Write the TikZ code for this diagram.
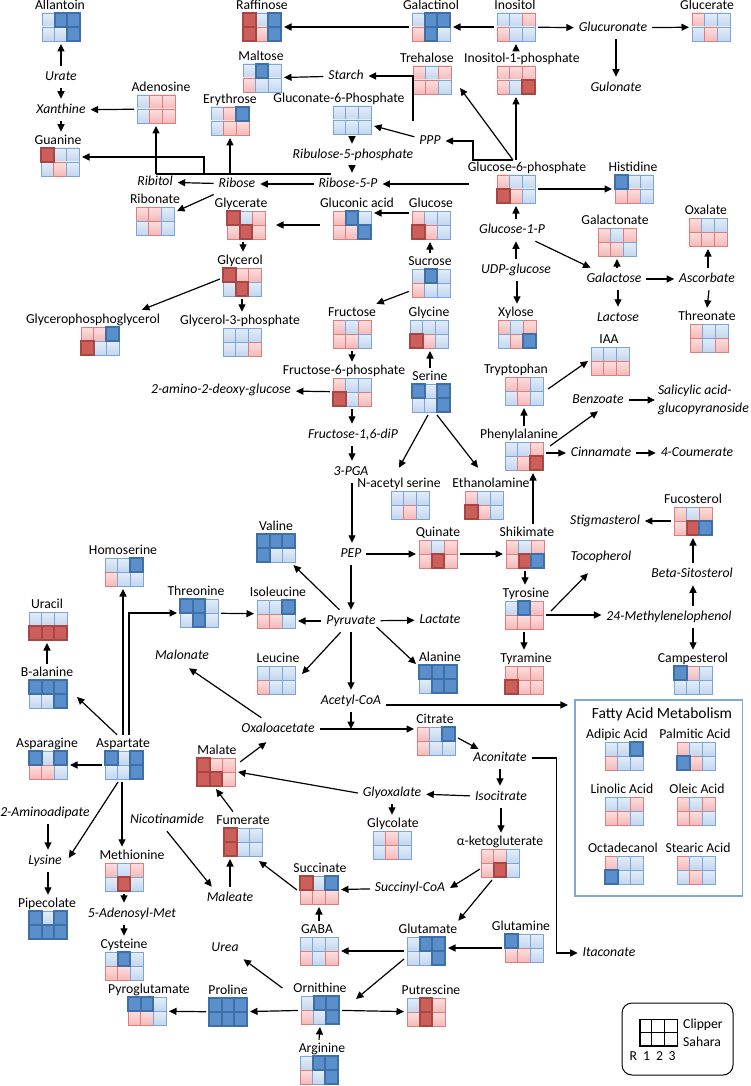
\documentclass[tikz,border=0pt]{standalone}
\usepackage{fontspec}
\setmainfont{Carlito}
\usetikzlibrary{arrows.meta,calc}
\definecolor{lbA}{HTML}{E4EDF9}
\definecolor{lbB}{HTML}{C3D6EE}
\definecolor{lbD}{HTML}{7AA5DB}
\definecolor{lrA}{HTML}{FDDFDF}
\definecolor{lrB}{HTML}{F4B9B9}
\definecolor{lrD}{HTML}{E07C7C}
\definecolor{dbF}{HTML}{5A8FCB}
\definecolor{dbD}{HTML}{3E6FA7}
\definecolor{drF}{HTML}{CD5F5B}
\definecolor{drD}{HTML}{A84643}
\definecolor{boxD}{HTML}{7FA8DA}
\newcommand\lfnt{\fontsize{13.7}{18}\selectfont}
\tikzset{
  cell-b/.style={draw=lbD, top color=lbA, bottom color=lbB, line width=0.8pt},
  cell-r/.style={draw=lrD, top color=lrA, bottom color=lrB, line width=0.8pt},
  cell-B/.style={draw=dbD, fill=dbF, line width=0.8pt},
  cell-R/.style={draw=drD, fill=drF, line width=0.8pt},
  top-b/.style={}, top-r/.style={},
  top-B/.style={draw=dbD, line width=1.8pt},
  top-R/.style={draw=drD, line width=1.8pt},
  gridnode/.style={minimum width=38pt, minimum height=28pt, inner sep=0pt, outer sep=3pt},
  lab/.style={font=\lfnt, inner sep=1pt, outer sep=2pt, text height=9.5pt, text depth=3pt},
  it/.style={lab, font=\lfnt\itshape, outer sep=4pt},
  itml/.style={font=\lfnt\itshape, inner sep=1pt, outer sep=2pt, align=left, anchor=west},
  arr/.style={line width=1.2pt, -{Triangle[length=7.5pt,width=7pt]}},
  conn/.style={line width=1.2pt},
  lgline/.style={line width=1.3pt},
}
\newcommand\metab[6]{%
  \node[gridnode] (#1) at (#2,#3) {};
  \node[lab] (#1-l) at (#5,#3-21) {#4};
  \foreach \cd [count=\ci from 0] in {#6}{%
    \pgfmathsetmacro\cxx{#2-19+mod(\ci,3)*12.667}%
    \pgfmathsetmacro\cyy{#3-14+int(\ci/3)*14}%
    \path[cell-\cd] (\cxx,\cyy) rectangle ++(12.667,14);
  }%
  \foreach \cd [count=\ci from 0] in {#6}{%
    \pgfmathsetmacro\cxx{#2-19+mod(\ci,3)*12.667}%
    \pgfmathsetmacro\cyy{#3-14+int(\ci/3)*14}%
    \path[top-\cd] (\cxx,\cyy) rectangle ++(12.667,14);
  }%
}
\begin{document}
\begin{tikzpicture}[x=1pt,y=-1pt]
\fill[white] (0,0) rectangle (750,1086);
\useasboundingbox (0,0) rectangle (750,1086);

% fatty acid box
\node[draw=boxD, line width=1.2pt, minimum width=167.7pt, minimum height=196pt, inner sep=0pt, outer sep=7pt] (fabox) at (658.8,798) {};
\node[font=\fontsize{15.5}{18}\selectfont, inner sep=1pt] (fatitle) at (662,714) {Fatty Acid Metabolism};

% metabolites
\metab{allantoin}{61}{27}{Allantoin}{60}{b,B,B,b,b,B}
\metab{raffinose}{262}{27}{Raffinose}{262}{R,b,B,R,r,B}
\metab{galactinol}{431}{27}{Galactinol}{431}{b,B,B,r,B,b}
\metab{inositol}{516}{27}{Inositol}{515}{b,b,r,r,b,b}
\metab{glucerate}{711}{27}{Glucerate}{707}{r,b,b,b,r,b}
\metab{maltose}{262}{78}{Maltose}{261}{b,B,b,r,b,b}
\metab{trehalose}{432}{80}{Trehalose}{427}{r,b,r,r,r,b}
\metab{ino1p}{516}{80}{Inositol-1-phosphate}{522}{r,r,r,r,b,R}
\metab{adenosine}{156}{109}{Adenosine}{161}{b,r,r,b,r,r}
\metab{erythrose}{230}{121}{Erythrose}{230}{b,r,B,b,r,r}
\metab{g6pp}{352}{120}{Gluconate-6-Phosphate}{339}{b,b,b,b,b,b}
\metab{guanine}{60}{162}{Guanine}{58}{R,b,b,b,r,b}
\metab{g6p}{516}{189}{Glucose-6-phosphate}{527}{r,b,b,R,r,b}
\metab{histidine}{634}{189}{Histidine}{633}{B,b,b,r,r,b}
\metab{ribonate}{155}{221}{Ribonate}{155}{r,r,b,b,r,b}
\metab{glycerate}{246}{225}{Glycerate}{241}{R,b,r,r,R,r}
\metab{gluconic}{352}{225}{Gluconic acid}{357}{r,B,b,r,r,B}
\metab{glucose}{431}{225}{Glucose}{431}{r,b,b,R,r,b}
\metab{galactonate}{617}{242}{Galactonate}{615}{r,b,r,r,r,b}
\metab{oxalate}{708}{232}{Oxalate}{706}{r,b,b,r,r,r}
\metab{sucrose}{431}{283}{Sucrose}{430}{b,B,b,r,b,b}
\metab{glycerol}{242}{282}{Glycerol}{240}{R,r,r,b,R,b}
\metab{fructose}{352}{334}{Fructose}{352}{r,b,r,r,r,b}
\metab{glycine}{429}{334}{Glycine}{429}{b,b,b,R,r,b}
\metab{xylose}{517}{334}{Xylose}{516}{r,b,r,b,r,B}
\metab{threonate}{709}{338}{Threonate}{707}{r,b,b,r,b,r}
\metab{gpg}{100}{341}{Glycerophosphoglycerol}{93}{r,r,B,R,b,b}
\metab{g3p}{242}{342}{Glycerol-3-phosphate}{240}{b,b,b,b,b,r}
\metab{iaa}{610}{361}{IAA}{609}{b,b,b,r,r,r}
\metab{f6p}{352}{392}{Fructose-6-phosphate}{344}{r,b,b,R,b,r}
\metab{serine}{431}{398}{Serine}{430}{B,b,B,b,b,B}
\metab{tryptophan}{524}{391}{Tryptophan}{516}{r,r,b,b,r,b}
\metab{phenylalanine}{524}{456}{Phenylalanine}{519}{b,b,r,b,r,R}
\metab{nacser}{410}{505}{N-acetyl serine}{399}{b,b,b,b,r,b}
\metab{ethanolamine}{484}{505}{Ethanolamine}{491}{r,b,b,R,r,b}
\metab{fucosterol}{693}{521}{Fucosterol}{693}{r,b,r,r,R,B}
\metab{valine}{276}{548}{Valine}{276}{B,B,B,B,b,b}
\metab{quinate}{438}{554}{Quinate}{438}{r,b,r,r,R,r}
\metab{shikimate}{525}{554}{Shikimate}{527}{r,b,r,r,R,B}
\metab{homoserine}{124}{572}{Homoserine}{123}{b,b,B,r,b,b}
\metab{threonine}{199}{613}{Threonine}{196}{B,B,b,b,B,b}
\metab{isoleucine}{276}{614}{Isoleucine}{278}{b,b,B,r,r,b}
\metab{tyrosine}{524}{615}{Tyrosine}{526}{b,B,r,r,r,r}
\metab{uracil}{48}{626}{Uracil}{47}{b,b,b,R,R,R}
\metab{leucine}{276}{680}{Leucine}{278}{b,b,b,r,b,b}
\metab{alanine}{438}{679}{Alanine}{440}{B,B,B,b,B,B}
\metab{tyramine}{524}{680}{Tyramine}{526}{r,r,r,R,r,r}
\metab{campesterol}{693}{680}{Campesterol}{693}{B,r,b,b,b,b}
\metab{balanine}{48}{694}{B-alanine}{47}{B,B,B,b,b,B}
\metab{citrate}{436}{741}{Citrate}{435}{r,b,B,r,b,b}
\metab{asparagine}{48}{765}{Asparagine}{47}{B,b,B,r,r,b}
\metab{aspartate}{124}{765}{Aspartate}{123}{B,b,B,b,b,B}
\metab{malate}{216}{772}{Malate}{217}{R,r,r,R,R,r}
\metab{fumerate}{243}{842}{Fumerate}{243}{R,b,b,R,b,b}
\metab{glycolate}{392}{845}{Glycolate}{393}{b,r,b,b,r,b}
\metab{akg}{500}{863}{α-ketogluterate}{500}{r,r,b,r,R,b}
\metab{methionine}{124}{877}{Methionine}{132}{r,b,r,b,R,b}
\metab{succinate}{319}{890}{Succinate}{320}{R,b,B,r,r,r}
\metab{pipecolate}{48}{925}{Pipecolate}{47}{B,b,B,B,B,B}
\metab{glutamate}{426}{951}{Glutamate}{428}{b,B,B,b,b,B}
\metab{gaba}{319}{951}{GABA}{317}{b,b,b,r,b,r}
\metab{glutamine}{524}{948}{Glutamine}{521}{B,b,b,r,r,b}
\metab{cysteine}{124}{966}{Cysteine}{124}{b,B,b,r,r,b}
\metab{pyroglutamate}{147}{1011}{Pyroglutamate}{149}{B,B,b,r,r,b}
\metab{proline}{228}{1012}{Proline}{228}{B,B,B,B,B,B}
\metab{ornithine}{320}{1010}{Ornithine}{320}{b,B,B,r,b,B}
\metab{putrescine}{426}{1012}{Putrescine}{431}{b,R,r,r,R,r}
\metab{arginine}{319}{1070}{Arginine}{322}{b,B,B,r,b,B}
\metab{adipic}{624}{756}{Adipic Acid}{617}{b,b,B,r,b,b}
\metab{palmitic}{696}{756}{Palmitic Acid}{695}{r,b,b,B,r,b}
\metab{linolic}{624}{811}{Linolic Acid}{622}{b,b,r,r,r,b}
\metab{oleic}{696}{811}{Oleic Acid}{697}{r,b,r,r,r,b}
\metab{octadecanol}{624}{870}{Octadecanol}{623}{r,b,b,B,b,b}
\metab{stearic}{696}{870}{Stearic Acid}{698}{r,b,b,b,r,b}

% italic intermediates
\node[it] (urate) at (61,77) {Urate};
\node[it] (xanthine) at (61,110) {Xanthine};
\node[it] (ribitol) at (155,182) {Ribitol};
\node[it] (ribose) at (237,184) {Ribose};
\node[it] (r5p) at (348,184) {Ribose-5-P};
\node[it] (ru5p) at (353,155) {Ribulose-5-phosphate};
\node[it] (starch) at (346,76) {Starch};
\node[it] (ppp) at (430,141) {PPP};
\node[it] (glucuronate) at (613,28) {Glucuronate};
\node[it] (gulonate) at (616,88) {Gulonate};
\node[it] (g1p) at (512,230) {Glucose-1-P};
\node[it] (udpg) at (516,270) {UDP-glucose};
\node[it] (galactose) at (614,279) {Galactose};
\node[it] (ascorbate) at (707,279) {Ascorbate};
\node[it] (lactose) at (618,318) {Lactose};
\node[it] (amino) at (221,390) {2-amino-2-deoxy-glucose};
\node[it] (f16) at (353,435) {Fructose-1,6-diP};
\node[it] (pga) at (351,472) {3-PGA};
\node[it] (benzoate) at (598,400) {Benzoate};
\node[itml] (salicylic) at (655,400) {Salicylic acid-\\glucopyranoside};
\node[it] (cinnamate) at (601,453) {Cinnamate};
\node[it] (coumerate) at (697,453) {4-Coumerate};
\node[it] (stigmasterol) at (605,521) {Stigmasterol};
\node[it] (pep) at (351,554) {PEP};
\node[it] (tocopherol) at (601,557) {Tocopherol};
\node[it] (betasit) at (692,574) {Beta-Sitosterol};
\node[it] (methyleno) at (669,617) {24-Methylenelophenol};
\node[it] (pyruvate) at (351,621) {Pyruvate};
\node[it] (lactate) at (440,620) {Lactate};
\node[it] (malonate) at (182,656) {Malonate};
\node[it] (acetylcoa) at (351,701) {Acetyl-CoA};
\node[it] (oxaloacetate) at (278,729) {Oxaloacetate};
\node[it] (aconitate) at (500,758) {Aconitate};
\node[it] (glyoxalate) at (392,793) {Glyoxalate};
\node[it] (isocitrate) at (501,797) {Isocitrate};
\node[it] (aminoadipate) at (45,813) {2-Aminoadipate};
\node[it] (nicotinamide) at (167,820) {Nicotinamide};
\node[it] (lysine) at (45,861) {Lysine};
\node[it] (succinylcoa) at (410,888) {Succinyl-CoA};
\node[it] (maleate) at (230,898) {Maleate};
\node[it] (adenosylmet) at (132,914) {5-Adenosyl-Met};
\node[it] (urea) at (225,948) {Urea};
\node[it] (itaconate) at (609,953) {Itaconate};

% connectors
\draw[arr] (urate) -- (allantoin);
\draw[arr] (urate) -- (xanthine);
\draw[arr] (xanthine.south) -- (xanthine.south |- guanine-l.north);
\draw[arr] (adenosine) -- (xanthine);
\draw[arr] (galactinol) -- (raffinose);
\draw[arr] (inositol) -- (galactinol);
\draw[arr] (inositol) -- (glucuronate);
\draw[arr] (glucuronate) -- (glucerate);
\draw[arr] (glucuronate.south -| gulonate) -- (gulonate.north);
\draw[arr] (ino1p-l.north -| inositol) -- (inositol.south);
\draw[arr] (starch) -- (maltose);
\coordinate (pppc) at (413,121);
\draw[arr] (pppc) |- (starch);
\draw[arr] (ppp) -- (g6pp);
\coordinate (g6pt) at (513,160);
\draw[arr] (g6pt) -- ++(-40,0) |- (ppp);
\draw[arr] (g6pt) -- ($(trehalose.east)+(6,8)$);
\draw[arr] (g6pt -| ino1p) -- (ino1p.south);
\draw[arr] (g6pp.south) -- (g6pp.south |- ru5p.north);
\draw[arr] (ru5p.south -| g6pp) -- (r5p.north -| g6pp);
\draw[arr] ($(g6p.west)+(-25,-5)$) -- (r5p);
\draw[arr] (r5p) -- (ribose);
\draw[arr] (ribose) -- (ribitol);
\draw[arr] (ribose) -- (ribonate);
\coordinate (treeR) at (331,174);
\draw[conn] (treeR) -- (treeR -| adenosine);
\draw[arr] (treeR -| adenosine) -- (adenosine.south);
\draw[arr] (treeR -| erythrose) -- (erythrose.south);
\coordinate (gbr) at (204,174);
\draw[arr] (gbr) |- ($(guanine.east)+(0,-5)$);
\draw[arr] (g6p) -- (histidine);
\draw[arr] (g1p.north -| g6p) -- (g6p.south);
\draw[arr] (udpg.north -| g6p) -- (g1p.south -| g6p);
\draw[arr] (g1p) -- (galactose);
\draw[arr] (galactose.north -| galactonate) -- (galactonate.south);
\draw[arr] (galactose) -- (ascorbate);
\draw[arr] (ascorbate.north -| oxalate) -- (oxalate.south);
\draw[arr] (galactose.south -| lactose) -- (lactose.north);
\draw[arr] (ascorbate.south -| threonate) -- (threonate-l.north);
\draw[arr] (udpg.south -| xylose) -- (xylose-l.north -| xylose);
\draw[arr] ($(glucose.west)+(0,-12)$) -- ($(gluconic.east)+(0,-12)$);
\draw[arr, shorten <=10pt, shorten >=8pt] (gluconic) -- (glycerate);
\draw[arr] (sucrose-l.north) -- (sucrose-l.north |- glucose.south);
\draw[arr] ($(glycerate.south)+(-3,0)$) -- ($(glycerol-l.north)+(3,0)$);
\draw[arr] (glycerol.south) -- (glycerol.south |- g3p-l.north);
\draw[arr] ($(glycerol.west)+(0,-3)$) -- ($(gpg-l.north)+(49,-1)$);
\draw[arr] (sucrose) -- (fructose-l);
\draw[arr] (fructose.south) -- (fructose.south |- f6p-l.north);
\draw[arr] (f6p) -- (amino);
\draw[arr] (f6p.south) -- (f6p.south |- f16.north);
\draw[arr] (f16.south -| f6p) -- (pga.north -| f6p);
\draw[arr] (pga.south -| f6p) -- (pep.north -| f6p);
\draw[arr] (serine-l.north) -- (serine-l.north |- glycine.south);
\draw[arr] ($(serine.south)+(-3,0)$) -- ($(nacser-l.north)+(0,-7)$);
\draw[arr] ($(serine.south)+(6,0)$) -- ($(ethanolamine-l.north)+(-13,-7)$);
\draw[arr] ($(tryptophan.east)+(2,-2)$) -- (iaa.west);
\draw[arr] (phenylalanine-l.north -| phenylalanine) -- (tryptophan.south);
\draw[arr] ($(phenylalanine.east)+(4,-10)$) -- (benzoate.south);
\draw[arr] (benzoate) -- (salicylic);
\draw[arr] (phenylalanine.east |- cinnamate) -- (cinnamate);
\draw[arr] (cinnamate) -- (coumerate);
\draw[arr] ($(shikimate-l.north)+(6,0)$) -- ($(phenylalanine.south)+(9,0)$);
\draw[arr] (fucosterol) -- (stigmasterol);
\draw[arr] (pep) -- (quinate);
\draw[arr] (quinate) -- (shikimate);
\draw[arr] (shikimate.south) -- (shikimate.south |- tyrosine-l.north);
\draw[arr] ($(tyrosine.east)+(5,-4)$) -- ($(tocopherol.south)+(-13,5)$);
\draw[arr] (tyrosine.east) -- (tyrosine.east -| methyleno.west);
\draw[arr] (methyleno.north -| fucosterol) -- (betasit.south -| fucosterol);
\draw[arr] (betasit.north -| fucosterol) -- (fucosterol.south);
\draw[arr] (methyleno.south -| campesterol) -- (campesterol-l.north);
\draw[arr] (tyrosine.south) -- (tyrosine.south |- tyramine-l.north);
\draw[arr] (pep) -- (pyruvate);
\draw[arr] (pyruvate) -- (valine);
\draw[arr] (pyruvate.west) -- (pyruvate.west -| isoleucine.east);
\draw[arr] (pyruvate) -- (lactate);
\draw[arr] (pyruvate) -- ($(leucine.east)+(4,-6)$);
\draw[arr] ($(pyruvate.east)+(-4,6)$) -- ($(alanine-l.west)+(0,6)$);
\draw[arr] (pyruvate) -- (acetylcoa);
\draw[arr] (threonine) -- (isoleucine);
\coordinate (acE) at ($(acetylcoa.east)+(0,4)$);
\draw[arr] (acE) -- (acE -| fabox.west);
\draw[arr] (acetylcoa.south) -- (acetylcoa.south |- oxaloacetate);
\draw[arr] (oxaloacetate.east) -- (oxaloacetate.east -| citrate.west);
\draw[arr] ($(oxaloacetate.north west)+(25,0)$) -- ($(malonate.south)+(7,1)$);
\draw[arr] ($(citrate.east)+(0,-3)$) -- ($(aconitate.west)+(10,-9)$);
\draw[arr] (aconitate.east) -- ++(25,0) |- (itaconate);
\draw[arr] (aconitate.south) -- (aconitate.south |- isocitrate.north);
\draw[arr] (isocitrate) -- (glyoxalate);
\draw[arr] (isocitrate.south) -- (isocitrate.south |- akg-l.north);
\draw[arr] (glyoxalate.south) -- (glyoxalate.south |- glycolate-l.north);
\draw[arr] (glyoxalate.west) -- (malate.east);
\draw[arr] ($(malate.east)+(2,-10)$) -- ($(oxaloacetate.south west)+(30,2)$);
\draw[arr] ($(fumerate-l.north)+(-10,0)$) -- (malate.south);
\draw[arr] (maleate.north) -- (maleate.north |- fumerate.south);
\draw[arr] (nicotinamide.south) -- ($(maleate.north west)+(10,0)$);
\draw[arr] (succinate.west) -- ($(fumerate.south east)+(-6,2)$);
\draw[arr] (succinylcoa) -- (succinate);
\draw[arr] ($(akg.west)+(2,6)$) -- (succinylcoa.east);
\draw[arr] ($(akg.south)+(-8,0)$) -- ($(glutamate-l.north east)+(-2,0)$);
\draw[arr] (glutamine.west) -- (glutamine.west -| glutamate.east);
\draw[arr] (glutamate) -- (gaba);
\draw[arr] (gaba-l.north -| gaba) -- (succinate.south);
\draw[arr] ($(glutamate.west)+(0,8)$) -- ($(ornithine.east)+(14,-11)$);
\draw[arr] (ornithine) -- (proline);
\draw[arr] (ornithine) -- (putrescine);
\draw[arr] ($(ornithine-l.west)+(-8,-1)$) -- (urea.south east);
\draw[arr] (arginine-l.north -| arginine) -- (ornithine.south);
\draw[arr] (proline) -- (pyroglutamate);
\draw[arr] ($(aspartate-l.north)+(-6,0)$) -- ($(balanine.east)+(7,3)$);
\draw[arr] (balanine-l.north) -- (balanine-l.north |- uracil.south);
\draw[arr] (aspartate) -- (asparagine);
\draw[arr] (aspartate-l.north) -- (aspartate-l.north |- homoserine.south);
\draw[arr] ($(aspartate-l.north)+(6,0)$) |- (threonine);
\draw[arr] ($(aspartate.south)+(-6,0)$) -- ($(lysine.east)+(2,-3)$);
\draw[arr] ($(aspartate.south)+(-2,0)$) -- ($(methionine-l.north)+(-10,0)$);
\draw[arr] (aminoadipate.south -| pipecolate) -- (lysine.north -| pipecolate);
\draw[arr] (lysine.south -| pipecolate) -- (pipecolate-l.north -| pipecolate);
\draw[arr] (methionine.south) -- (methionine.south |- adenosylmet.north);
\draw[arr] (adenosylmet.south -| methionine) -- (cysteine-l.north -| methionine);

% legend
\node[draw, line width=1pt, rounded corners=10pt, minimum width=111pt, minimum height=72pt, inner sep=0pt] (legend) at (677.5,1039) {};
\node[draw, lgline, minimum width=37.3pt, minimum height=26.7pt, inner sep=0pt] (lgrid) at (658.7,1032.7) {};
\draw[lgline] ($(lgrid.north west)+(12.43,0)$) -- ($(lgrid.south west)+(12.43,0)$);
\draw[lgline] ($(lgrid.north west)+(24.86,0)$) -- ($(lgrid.south west)+(24.86,0)$);
\draw[lgline] (lgrid.west) -- (lgrid.east);
\node[font=\lfnt, anchor=west, inner sep=0pt] (lclip) at (683,1025) {Clipper};
\node[font=\lfnt, anchor=west, inner sep=0pt] (lsah) at (683,1042) {Sahara};
\node[font=\lfnt, inner sep=0pt] (lr) at (633.3,1056) {R};
\node[font=\lfnt, inner sep=0pt] (l1) at (646.5,1056) {1};
\node[font=\lfnt, inner sep=0pt] (l2) at (659.5,1056) {2};
\node[font=\lfnt, inner sep=0pt] (l3) at (672,1056) {3};
\end{tikzpicture}
\end{document}
